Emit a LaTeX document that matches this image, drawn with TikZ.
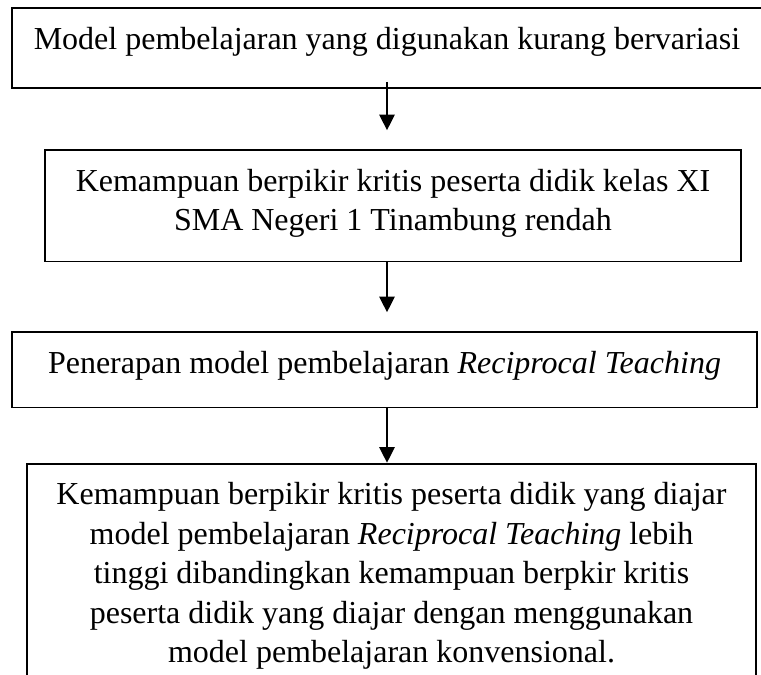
\documentclass[tikz,border=0pt]{standalone}
\usepackage{fontspec}
\setmainfont{Liberation Serif}
\usetikzlibrary{arrows.meta, positioning}

\begin{document}
\begin{tikzpicture}[
  x=1pt, y=1pt,
  box/.style={draw, line width=0.85pt, align=center, inner xsep=0pt, inner ysep=9.5pt,
              font=\fontsize{16}{19.75}\selectfont,
              execute at end node={\rule[-#1]{0pt}{#1}}},
  box/.default=8.6pt,
  arr/.style={-{Triangle[length=7.8pt, width=7.5pt]}, line width=1.1pt}
]
\useasboundingbox (0,0) rectangle (380.5,-337.5);
\clip (0,0) rectangle (380.5,-337.5);
\node[box=10pt, minimum width=375pt, anchor=north] (a) at (193.5,-3.5)
  {Model pembelajaran yang digunakan kurang bervariasi};
\node[box=5.8pt, minimum width=348pt, below=30.2pt of a, xshift=3pt] (b)
  {Kemampuan berpikir kritis peserta didik kelas XI\\ SMA Negeri 1 Tinambung rendah};
\node[box=7.6pt, minimum width=372.5pt, below=34.5pt of b, xshift=-4.25pt] (c)
  {Penerapan model pembelajaran \textit{Reciprocal Teaching}};
\node[box, minimum width=364.5pt, below=27.2pt of c, xshift=3.5pt] (d)
  {Kemampuan berpikir kritis peserta didik yang diajar\\
   model pembelajaran \textit{Reciprocal Teaching} lebih\\
   tinggi dibandingkan kemampuan berpkir kritis\\
   peserta didik yang diajar dengan menggunakan\\
   model pembelajaran konvensional.};
\foreach \x/\y/\p/\q in {a/b/-3.5pt/9.5pt,b/c/0pt/9.5pt,c/d/0pt/0pt}
  \draw[arr, shorten <=\p, shorten >=\q] (\x.south -| a) -- (\y.north -| a);
\end{tikzpicture}
\end{document}
